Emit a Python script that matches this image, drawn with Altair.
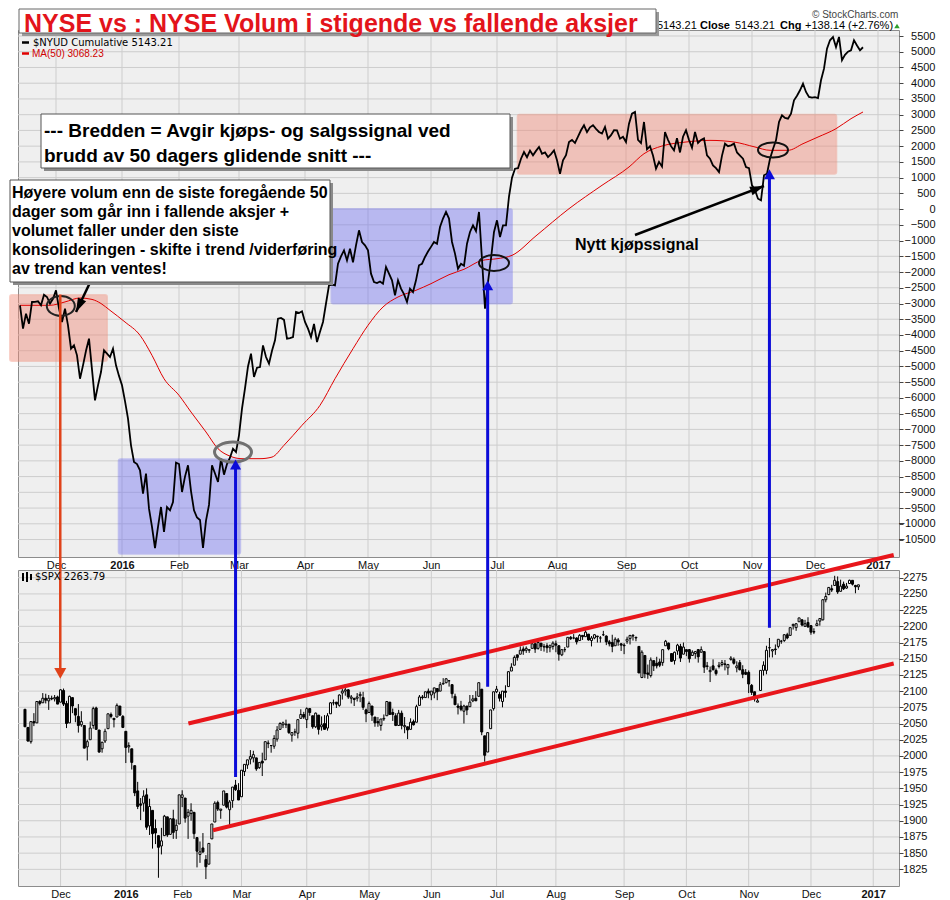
import altair as alt
import pandas as pd

# ---------------- data ----------------
# x = trading-day index, 0 = 1 Dec 2015 (first value = 12 Nov 2015)
FIRST_DAY = -12
month_ticks = [0, 22, 41, 61, 83, 104, 125, 147, 167, 190, 211, 232, 253, 274]
month_labels = ["Dec", "2016", "Feb", "Mar", "Apr", "May", "Jun", "Jul", "Aug",
                "Sep", "Oct", "Nov", "Dec", "2017"]
nyud_ticks = list(range(-10500, 5501, 500))
spx_ticks = list(range(1825, 2276, 25))

nyud = [
    -3057, -3800, -3323, -3641, -2952, -2950, -2930, -3057, -2720, -2793, -3000, -2850,
    -2580, -3165, -3588, -3165, -3693, -4436, -4330, -4647, -5390, -4965, -4500, -4118,
    -5100, -6077, -5600, -5177, -4487, -4590, -4700, -4436, -4965, -5300,
    -5600, -6100, -6660, -7506, -8036, -8100, -8300, -9044, -8408, -9520, -10100, -10769,
    -10100, -9466, -10261, -9466, -9570, -9307, -8058,
    -8100, -8990, -8500, -8141, -8960, -9571, -9800, -9880, -10769, -9900, -9400, -8141,
    -8400, -8672, -7931, -8440, -8100, -7900, -7613, -7718,
    -7188, -6343, -5700, -5000, -4594, -5335, -5040, -5018, -4330, -4700, -4912, -4500,
    -4170, -3481, -3460, -3520, -4118, -4100, -4065, -3270, -3300, -3248,
    -3587, -3800, -4065, -3650, -4224, -3900, -3588, -3000, -2422, -2400, -2422, -1736,
    -1500, -1310, -1630, -1258, -1690, -1151, -674, -1046, -1150,
    -1310, -2052, -2317, -2350, -2300, -2370, -1840, -2052, -2263, -2740, -2263, -2528,
    -2700, -2952, -2528, -2635, -2263, -1786, -1736, -1522, -1350,
    -1200, -1045, -1100, -569, -300, -92, -300, -1045, -1415, -1894, -1736, -1800,
    -1100, -728, -515, -700, -92, -1600, -3165, -2316, -1576, -728,
    -356, -887, -515, -515, 400, 1000, 1284, 1300, 1600, 1814, 1650, 1860, 1710, 1850,
    1973, 1760, 1800, 1655, 1750, 1868,
    1550, 1125, 1550, 1710, 2132, 2200, 2100, 2300, 2504, 2663, 2450, 2600, 2663, 2550,
    2450, 2400, 2610, 2237, 2350, 2504, 2500, 2237, 2300,
    2132, 2713, 3031, 3086, 2200, 2100, 2768, 1900, 2000, 1700, 1284, 1500, 1350, 2450,
    2200, 2000, 1868, 2250, 1800, 2300, 2504,
    2200, 1950, 2450, 2100, 2200, 2250, 1710, 1600, 1390, 1300, 1178, 1700, 2078, 2000,
    2027, 2080, 1800, 1700, 1600, 1338, 1300,
    756, 600, 330, 280, 1074, 1125, 1600, 1910, 2184, 2768, 2980, 2900, 2875, 3031,
    3457, 3600, 3775, 3985, 3722, 3562, 3540,
    3560, 3530, 4093, 4462, 5097, 5364, 5470, 5150, 5470, 4729, 4900, 5000, 5047, 5364,
    5200, 5047, 5143,
]

ma_day = [-12, -2, 3, 8, 12, 15, 18, 23, 28, 32, 36, 41, 45, 50, 54, 58, 62, 68, 72, 76,
          82, 88, 93, 99, 104, 109, 114, 120, 125, 131, 136, 142, 147, 152, 160, 171, 182,
          191, 196, 202, 210, 218, 226, 233, 238, 244, 249, 254, 260, 265, 269]
ma_val = [-3057, -3057, -2950, -2825, -2870, -3000, -3217, -3588, -4010, -4647, -5390,
          -5917, -6448, -7083, -7613, -7850, -7931, -7931, -7880, -7506, -6870, -6235,
          -5390, -4436, -3693, -3110, -2793, -2580, -2370, -2085, -1913, -1630, -1576,
          -1470, -850, 13, 756, 1338, 1760, 2005, 2132, 2184, 2132, 1973, 1868, 1868,
          2078, 2290, 2555, 2873, 3086]

spx_open = [
    2072, 2044, 2022, 2053, 2051, 2084, 2082, 2089, 2085, 2089, 2088, 2091,
    2083, 2101, 2081, 2051, 2090, 2073, 2061, 2048, 2047, 2014, 2025, 2047, 2074, 2040, 2011, 2023, 2042, 2064, 2058, 2060, 2077, 2061,
    2038, 2014, 2011, 1985, 1946, 1926, 1927, 1940, 1892, 1916, 1888, 1877, 1861, 1877, 1906, 1879, 1903, 1885, 1895,
    1936, 1935, 1907, 1911, 1913, 1874, 1848, 1858, 1840, 1833, 1872, 1898, 1928, 1916, 1924, 1942, 1917, 1931, 1955, 1947,
    1937, 1976, 1986, 1995, 1997, 1997, 1982, 1992, 1994, 2019, 2016, 2015, 2026, 2041, 2048, 2048, 2049, 2032, 2037, 2035, 2058, 2064,
    2056, 2073, 2062, 2045, 2063, 2045, 2050, 2043, 2065, 2082, 2083, 2078, 2097, 2100, 2102, 2089, 2089, 2089, 2093, 2090, 2071,
    2067, 2077, 2060, 2053, 2047, 2057, 2062, 2083, 2067, 2062, 2047, 2066, 2045, 2045, 2041, 2053, 2052, 2078, 2091, 2090, 2100,
    2094, 2097, 2104, 2100, 2111, 2113, 2116, 2110, 2092, 2077, 2077, 2069, 2077, 2076, 2085, 2089, 2092, 2103, 2031, 2006, 2042, 2073,
    2099, 2095, 2084, 2100, 2107, 2131, 2140, 2156, 2157, 2165, 2163, 2163, 2166, 2173, 2166, 2174, 2168, 2170, 2167, 2169,
    2173, 2170, 2156, 2164, 2168, 2183, 2182, 2182, 2178, 2186, 2184, 2188, 2178, 2182, 2185, 2182, 2187, 2185, 2176, 2175, 2170, 2179, 2173,
    2171, 2177, 2181, 2185, 2183, 2169, 2121, 2155, 2128, 2124, 2147, 2143, 2145, 2144, 2170, 2174, 2158, 2147, 2162, 2169, 2157,
    2164, 2164, 2155, 2158, 2164, 2160, 2161, 2138, 2130, 2139, 2132, 2138, 2141, 2142, 2136, 2149, 2149, 2136, 2144, 2133, 2129,
    2129, 2109, 2099, 2083, 2101, 2132, 2132, 2167, 2162, 2165, 2169, 2177, 2178, 2187, 2186, 2201, 2198, 2207, 2210, 2200, 2206,
    2201, 2191, 2201, 2208, 2210, 2241, 2249, 2258, 2263, 2269, 2254, 2265, 2259, 2266, 2271, 2263, 2261,
]
spx_high = [
    2072, 2044, 2053, 2066, 2084, 2086, 2097, 2096, 2094, 2093, 2094, 2093,
    2103, 2104, 2085, 2093, 2090, 2073, 2080, 2069, 2047, 2025, 2053, 2076, 2076, 2040, 2022, 2042, 2065, 2067, 2058, 2081, 2077, 2063,
    2038, 2021, 2011, 1985, 1960, 1935, 1947, 1950, 1934, 1916, 1902, 1877, 1889, 1909, 1906, 1904, 1917, 1902, 1940,
    1947, 1935, 1918, 1927, 1913, 1874, 1868, 1881, 1847, 1865, 1895, 1930, 1931, 1918, 1946, 1942, 1932, 1952, 1963, 1958,
    1978, 1987, 1994, 2009, 2008, 1997, 1990, 2005, 2022, 2024, 2016, 2032, 2046, 2052, 2053, 2056, 2049, 2036, 2042, 2056, 2072, 2068,
    2075, 2074, 2062, 2067, 2063, 2061, 2063, 2066, 2083, 2087, 2083, 2095, 2104, 2111, 2103, 2094, 2089, 2097, 2099, 2099, 2073,
    2084, 2077, 2060, 2060, 2057, 2064, 2084, 2083, 2073, 2066, 2071, 2070, 2060, 2045, 2058, 2056, 2079, 2094, 2094, 2099, 2104,
    2100, 2105, 2104, 2114, 2120, 2120, 2117, 2110, 2096, 2081, 2085, 2079, 2077, 2094, 2094, 2100, 2113, 2103, 2031, 2036, 2071, 2099,
    2108, 2099, 2100, 2109, 2131, 2143, 2155, 2156, 2169, 2169, 2169, 2164, 2175, 2175, 2176, 2174, 2173, 2174, 2172, 2177,
    2178, 2171, 2164, 2168, 2183, 2185, 2188, 2183, 2188, 2186, 2194, 2188, 2185, 2188, 2185, 2185, 2193, 2186, 2179, 2187, 2183, 2182, 2174,
    2174, 2184, 2186, 2188, 2184, 2169, 2163, 2155, 2141, 2152, 2147, 2153, 2150, 2164, 2179, 2175, 2158, 2161, 2173, 2173, 2175,
    2164, 2165, 2163, 2162, 2165, 2169, 2161, 2145, 2138, 2149, 2135, 2145, 2148, 2148, 2142, 2154, 2152, 2146, 2148, 2140, 2134,
    2132, 2111, 2099, 2093, 2132, 2146, 2170, 2182, 2165, 2172, 2180, 2179, 2188, 2190, 2198, 2204, 2205, 2213, 2211, 2210, 2214,
    2202, 2197, 2210, 2212, 2242, 2252, 2260, 2264, 2278, 2277, 2272, 2269, 2267, 2272, 2271, 2264, 2264,
]
spx_low = [
    2045, 2022, 2019, 2046, 2051, 2078, 2082, 2081, 2071, 2086, 2084, 2080,
    2083, 2077, 2043, 2051, 2066, 2052, 2036, 2045, 2012, 1993, 2025, 2042, 2041, 2005, 2005, 2020, 2042, 2058, 2044, 2060, 2062, 2043,
    1989, 2005, 1979, 1938, 1918, 1901, 1914, 1886, 1878, 1857, 1864, 1812, 1848, 1877, 1875, 1878, 1872, 1872, 1895,
    1921, 1897, 1872, 1900, 1872, 1828, 1835, 1850, 1810, 1833, 1872, 1898, 1915, 1903, 1924, 1919, 1891, 1920, 1946, 1932,
    1937, 1969, 1980, 1987, 1990, 1977, 1980, 1969, 1994, 2012, 2005, 2011, 2022, 2041, 2043, 2043, 2034, 2022, 2031, 2027, 2058, 2057,
    2043, 2062, 2042, 2043, 2033, 2039, 2041, 2039, 2065, 2078, 2074, 2076, 2087, 2093, 2088, 2081, 2077, 2084, 2083, 2071, 2052,
    2067, 2054, 2045, 2045, 2039, 2054, 2062, 2064, 2054, 2046, 2047, 2041, 2035, 2026, 2041, 2047, 2052, 2078, 2087, 2090, 2089,
    2086, 2089, 2086, 2100, 2110, 2112, 2107, 2089, 2079, 2064, 2069, 2050, 2063, 2076, 2083, 2085, 2092, 2032, 1991, 2006, 2042, 2070,
    2097, 2084, 2075, 2090, 2107, 2131, 2140, 2147, 2157, 2156, 2159, 2159, 2166, 2159, 2164, 2162, 2161, 2159, 2160, 2164,
    2160, 2147, 2154, 2160, 2168, 2179, 2180, 2172, 2178, 2179, 2184, 2178, 2169, 2180, 2175, 2175, 2185, 2171, 2169, 2160, 2170, 2170, 2162,
    2157, 2173, 2172, 2178, 2177, 2128, 2120, 2120, 2119, 2121, 2131, 2135, 2137, 2139, 2170, 2163, 2145, 2141, 2156, 2145, 2157,
    2154, 2144, 2155, 2150, 2144, 2160, 2128, 2133, 2114, 2132, 2124, 2135, 2138, 2132, 2125, 2147, 2141, 2129, 2132, 2120, 2125,
    2097, 2094, 2084, 2083, 2101, 2124, 2126, 2152, 2152, 2156, 2166, 2173, 2176, 2180, 2186, 2195, 2193, 2207, 2200, 2199, 2198,
    2187, 2188, 2201, 2201, 2209, 2237, 2248, 2253, 2263, 2250, 2254, 2256, 2258, 2266, 2263, 2251, 2256,
]
spx_close = [
    2045, 2023, 2053, 2051, 2084, 2081, 2089, 2086, 2089, 2088, 2090, 2080,
    2102, 2080, 2050, 2092, 2077, 2063, 2047, 2053, 2012, 2022, 2043, 2073, 2041, 2006, 2021, 2038, 2065, 2061, 2056, 2078, 2063, 2044,
    2013, 2016, 1990, 1943, 1922, 1924, 1938, 1890, 1922, 1880, 1881, 1859, 1869, 1907, 1878, 1903, 1882, 1893, 1940,
    1940, 1904, 1913, 1916, 1880, 1853, 1852, 1852, 1829, 1865, 1895, 1927, 1918, 1918, 1946, 1921, 1929, 1952, 1948, 1932,
    1978, 1987, 1994, 1999, 2002, 1980, 1990, 1989, 2022, 2020, 2016, 2027, 2040, 2050, 2051, 2049, 2036, 2036, 2037, 2056, 2064, 2060,
    2073, 2067, 2045, 2066, 2041, 2048, 2041, 2062, 2082, 2082, 2080, 2094, 2100, 2102, 2091, 2091, 2087, 2091, 2095, 2075, 2065,
    2081, 2063, 2051, 2051, 2057, 2058, 2084, 2064, 2064, 2047, 2066, 2047, 2047, 2040, 2052, 2048, 2076, 2091, 2090, 2099, 2097,
    2100, 2105, 2099, 2110, 2112, 2119, 2116, 2096, 2079, 2075, 2072, 2077, 2071, 2083, 2088, 2085, 2113, 2037, 2001, 2036, 2071, 2099,
    2103, 2089, 2100, 2098, 2130, 2137, 2152, 2152, 2163, 2162, 2166, 2164, 2173, 2165, 2175, 2169, 2169, 2167, 2170, 2174,
    2171, 2157, 2164, 2164, 2183, 2181, 2182, 2176, 2186, 2184, 2191, 2179, 2182, 2187, 2184, 2182, 2187, 2176, 2173, 2169, 2180, 2176, 2171,
    2170, 2180, 2186, 2186, 2182, 2128, 2160, 2127, 2126, 2148, 2139, 2139, 2140, 2164, 2177, 2165, 2146, 2160, 2171, 2151, 2168,
    2161, 2150, 2160, 2161, 2153, 2164, 2137, 2139, 2132, 2133, 2127, 2140, 2144, 2141, 2141, 2151, 2143, 2139, 2133, 2126, 2126,
    2111, 2098, 2088, 2085, 2132, 2140, 2163, 2167, 2164, 2164, 2180, 2177, 2187, 2182, 2198, 2203, 2204, 2213, 2202, 2204, 2199,
    2191, 2192, 2204, 2212, 2241, 2246, 2260, 2256, 2271, 2253, 2262, 2258, 2262, 2271, 2265, 2261, 2264,
]

# shaded zones on the breadth panel (day from, day to, value top, value bottom)
sell_zones = {"x1": [-15.33, 153.9], "x2": [17.0, 260.1], "y1": [-2730, 3000], "y2": [-4827, 1120]}
buy_zones = {"x1": [20.9, 91.8], "x2": [61.4, 152.0], "y1": [-7950, 0], "y2": [-10950, -3000]}

# trend channel on the S&P panel
channel = {"x1": [43.1, 51.4], "y1": [2050, 1885.3], "x2": [280.9, 280.9], "y2": [2310, 2142.6]}

# ---------------- helpers ----------------
n = len(nyud)
days = list(range(FIRST_DAY, FIRST_DAY + n))
ny_df = pd.DataFrame({"i": days, "v": nyud})
ma_df = pd.DataFrame({"i": ma_day, "v": ma_val})
spx_df = pd.DataFrame({"i": days, "o": spx_open, "h": spx_high, "l": spx_low, "c": spx_close})

W = 881
H_TOP = 527
H_BOT = 316
XS = alt.Scale(domain=[-12.667, 281.0], nice=False, zero=False)
YT = alt.Scale(domain=[-11055, 5691], nice=False, zero=False)
YB = alt.Scale(domain=[1799.3, 2286.9], nice=False, zero=False)

expr = "''"
for v, lab in reversed(list(zip(month_ticks, month_labels))):
    expr = f"datum.value == {v} ? '{lab}' : ({expr})"

GRID = "#CDCDCD"
FONT = "Liberation Sans"

xaxis = alt.Axis(values=month_ticks, labelExpr=expr, grid=False,
                 ticks=False, domain=False, labelFont=FONT, labelFontSize=11,
                 labelColor="#111", labelPadding=2, labelOverlap=False, labelFlush=False,
                 labelFontWeight={"condition": {"test": "datum.value == 22 || datum.value == 274",
                                                "value": "bold"}, "value": "normal"},
                 title=None)
ytop_axis = alt.Axis(orient="right", values=nyud_ticks, format="d", grid=False,
                     tickSize=4, tickColor="#444", domain=False, labelAlign="right",
                     labelPadding=32, labelFont=FONT, labelFontSize=11, labelColor="#111",
                     labelOverlap=False, title=None)
ybot_axis = alt.Axis(orient="right", values=spx_ticks, format="d", grid=False,
                     tickSize=4, tickColor="#444", domain=False, labelAlign="right",
                     labelPadding=24, labelFont=FONT, labelFontSize=11, labelColor="#111",
                     labelOverlap=False, title=None)


def XQ(f):
    return alt.X(f, type="quantitative", scale=XS, axis=xaxis)


def YTQ(f):
    return alt.Y(f, type="quantitative", scale=YT, axis=ytop_axis)


def YBQ(f):
    return alt.Y(f, type="quantitative", scale=YB, axis=ybot_axis)


one = pd.DataFrame({"k": [0]})


def ellipse_path(r):
    k = 0.5523
    return (f"M-1,0 C-1,{-k*r:.3f} {-k:.3f},{-r:.3f} 0,{-r:.3f} "
            f"C{k:.3f},{-r:.3f} 1,{-k*r:.3f} 1,0 "
            f"C1,{k*r:.3f} {k:.3f},{r:.3f} 0,{r:.3f} "
            f"C{-k:.3f},{r:.3f} -1,{k*r:.3f} -1,0 Z")


HEAD_UP = "M0,0 L1,1.8 L-1,1.8 Z"
HEAD_NARROW = "M0,0 L0.65,2 L-0.65,2 Z"


def px_rect(x1, x2, y1, y2, color, stroke=None, sw=0):
    kw = dict(color=color)
    if stroke:
        kw.update(stroke=stroke, strokeWidth=sw)
    return alt.Chart(one).mark_rect(**kw).encode(
        x=alt.value(x1), x2=alt.value(x2), y=alt.value(y1), y2=alt.value(y2))


def px_text(x, y, txt, size=11, weight="normal", color="black", font=FONT,
            align="left", baseline="alphabetic", line_height=None):
    kw = dict(fontSize=size, fontWeight=weight, color=color, font=font,
              align=align, baseline=baseline)
    if line_height:
        kw["lineHeight"] = line_height
    return alt.Chart(one).mark_text(**kw).encode(
        x=alt.value(x), y=alt.value(y), text=alt.value(txt))


def px_rule(x1, x2, y1, y2, color, sw):
    return alt.Chart(one).mark_rule(color=color, strokeWidth=sw).encode(
        x=alt.value(x1), x2=alt.value(x2), y=alt.value(y1), y2=alt.value(y2))


# ---------------- top panel ----------------
top_hgrid = alt.Chart(pd.DataFrame({"v": nyud_ticks})).mark_rule(
    color=GRID, strokeWidth=1).encode(y=YTQ("v"))
top_vgrid = alt.Chart(pd.DataFrame({"i": month_ticks})).mark_rule(
    color=GRID, strokeWidth=1).encode(x=XQ("i"))

sell = alt.Chart(pd.DataFrame(sell_zones)).mark_rect(
    color="#F08A78", opacity=0.45, stroke="#F0826C", strokeWidth=2, strokeOpacity=0.8,
    cornerRadius=2).encode(x=XQ("x1"), x2="x2:Q", y=YTQ("y1"), y2="y2:Q")
buy = alt.Chart(pd.DataFrame(buy_zones)).mark_rect(
    color="#6E6EF2", opacity=0.42, stroke="#6A6AEE", strokeWidth=2, strokeOpacity=0.8,
    cornerRadius=2).encode(x=XQ("x1"), x2="x2:Q", y=YTQ("y1"), y2="y2:Q")

ma_line = alt.Chart(ma_df).mark_line(color="#E00000", strokeWidth=1, interpolate="monotone").encode(
    x=XQ("i"), y=YTQ("v"))
ny_line = alt.Chart(ny_df).mark_line(color="#000000", strokeWidth=1.8).encode(
    x=XQ("i"), y=YTQ("v"))


def ellipse(i, v, r, size, color, sw):
    return alt.Chart(pd.DataFrame({"i": [i], "v": [v]})).mark_point(
        shape=ellipse_path(r), size=size, filled=False, color=color, strokeWidth=sw,
        opacity=1).encode(x=XQ("i"), y=YTQ("v"))


ellipses = [
    ellipse(1.6, -3080, 0.71, 784, "#222222", 2),
    ellipse(59.0, -7720, 0.54, 1369, "#707070", 3),
    ellipse(146.0, -1714, 0.53, 900, "#111111", 2),
    ellipse(239.0, 1877, 0.50, 900, "#111111", 2),
]

# black annotation arrows (tail -> tip) on the breadth panel
black_arrows = pd.DataFrame({"x1": [11.43, 193.0], "y1": [-2316, -823],
                             "x2": [6.67, 236.0], "y2": [-3270, 734],
                             "ang": [205.5, 69.0]})
arrow_shafts = alt.Chart(black_arrows).mark_rule(color="black", strokeWidth=2.5).encode(
    x=XQ("x1"), y=YTQ("y1"), x2="x2:Q", y2="y2:Q")
arrow_heads = [
    alt.Chart(black_arrows.iloc[[k]]).mark_point(
        shape=HEAD_NARROW, size=196, filled=True, color="black", opacity=1,
        angle=float(black_arrows.ang[k])).encode(x=XQ("x2"), y=YTQ("y2"))
    for k in range(len(black_arrows))
]

box_a = [
    px_rect(26, 495, 87, 141, "#8A8A8A"),
    px_rect(23, 492, 84, 138, "white", "#555555", 1),
    px_text(26, 107, ["--- Bredden = Avgir kjøps- og salgssignal ved",
                      "brudd av 50 dagers glidende snitt ---"],
            size=19, weight="bold", line_height=25),
]
box_b = [
    px_rect(-5, 315, 153, 255, "#8A8A8A"),
    px_rect(-8, 312, 150, 252, "white", "#555555", 1),
    px_text(-6, 168, ["Høyere volum enn de siste foregående 50",
                      "dager som går inn i fallende aksjer +",
                      "volumet faller under den siste",
                      "konsolideringen - skifte i trend /viderføring",
                      "av trend kan ventes!"],
            size=16, weight="bold", line_height=19),
]
signal_text = px_text(557, 220, "Nytt kjøpssignal", size=16, weight="bold")

header = [
    px_text(794, -15, "© StockCharts.com", size=10, color="#444444", baseline="middle"),
    px_text(639, -4, "5143.21", size=11, baseline="middle"),
    px_text(682, -4, "Close", size=11, weight="bold", baseline="middle"),
    px_text(717, -4, "5143.21", size=11, baseline="middle"),
    px_text(762, -4, "Chg", size=11, weight="bold", baseline="middle"),
    px_text(787, -4, "+138.14 (+2.76%)", size=11, baseline="middle"),
    alt.Chart(one).mark_point(shape="triangle-up", size=30, filled=True, color="#2CA02C",
                              opacity=1).encode(x=alt.value(879), y=alt.value(-4)),
    px_rule(4, 11, 12.5, 12.5, "black", 2.5),
    px_text(15, 12.5, "$NYUD Cumulative 5143.21", size=10, font="DejaVu Sans", baseline="middle"),
    px_rule(4, 11, 23.5, 23.5, "#E00000", 2.5),
    px_text(14, 23.5, "MA(50) 3068.23", size=10, color="#D00000", baseline="middle"),
    px_rect(4, 641, -18, 6, "#9A9A9A"),
    px_rect(1, 638, -21, 3, "white", "#666666", 1),
    px_text(6, 2, "NYSE vs : NYSE Volum i stigende vs fallende aksjer",
            size=25, weight="bold", color="#E3141B"),
]

top = alt.layer(top_hgrid, top_vgrid, sell, buy, ma_line, ny_line, *ellipses, arrow_shafts,
                *arrow_heads, *box_a, *box_b, signal_text, *header).properties(
    width=W, height=H_TOP)

# ---------------- bottom panel ----------------
bot_hgrid = alt.Chart(pd.DataFrame({"v": spx_ticks})).mark_rule(
    color=GRID, strokeWidth=1).encode(y=YBQ("v"))
bot_vgrid = alt.Chart(pd.DataFrame({"i": month_ticks})).mark_rule(
    color=GRID, strokeWidth=1).encode(x=XQ("i"))

wicks = alt.Chart(spx_df).mark_rule(color="black", strokeWidth=1).encode(
    x=XQ("i"), y=YBQ("l"), y2="h:Q")
bodies = alt.Chart(spx_df).transform_calculate(
    lo="min(datum.o, datum.c)", hi="max(datum.o, datum.c)").mark_bar(
    size=2, stroke="black", strokeWidth=1).encode(
    x=XQ("i"), y=YBQ("lo"), y2="hi:Q",
    fill=alt.condition("datum.c >= datum.o", alt.value("white"), alt.value("black")))

trend = alt.Chart(pd.DataFrame(channel)).mark_rule(color="#E8161B", strokeWidth=4).encode(
    x=XQ("x1"), y=YBQ("y1"), x2="x2:Q", y2="y2:Q")

# long signal arrows, expressed on the S&P scale (tips reach up into the breadth panel)
blue_arrows = pd.DataFrame({"x": [59.0, 144.0, 239.0],
                            "tail": [1967.6, 2106.6, 2197.8],
                            "shaft_end": [2444.9, 2721.4, 2892.9],
                            "tip": [2457.3, 2733.8, 2905.2]})
blue_shaft = alt.Chart(blue_arrows).mark_rule(color="#0B0BD8", strokeWidth=3).encode(
    x=XQ("x"), y=YBQ("tail"), y2="shaft_end:Q")
blue_head = alt.Chart(blue_arrows).mark_point(
    shape=HEAD_UP, size=121, filled=True, color="#0B0BD8", opacity=1).encode(
    x=XQ("x"), y=YBQ("tip"))

red_arrow = pd.DataFrame({"x": [-0.1], "top": [2712.1], "shaft_end": [2134.4], "tip": [2119.0]})
red_shaft = alt.Chart(red_arrow).mark_rule(color="#E0421A", strokeWidth=2.5).encode(
    x=XQ("x"), y=YBQ("top"), y2="shaft_end:Q")
red_head = alt.Chart(red_arrow).mark_point(
    shape=HEAD_UP, size=144, filled=True, color="#E0421A", opacity=1, angle=180).encode(
    x=XQ("x"), y=YBQ("tip"))

spx_legend = [
    px_rule(5, 5, 3, 11, "black", 2),
    px_rule(9, 9, 2, 12, "black", 2),
    px_rule(13, 13, 4, 10, "black", 2),
    px_text(17, 7, "$SPX 2263.79", size=10, font="DejaVu Sans", baseline="middle"),
]

bottom = alt.layer(bot_hgrid, bot_vgrid, wicks, bodies, trend, blue_shaft, blue_head,
                   red_shaft, red_head, *spx_legend).properties(width=W, height=H_BOT)

chart = alt.vconcat(top, bottom, spacing=13, bounds="flush").properties(
    padding=0, background="white"
).configure_view(stroke="#8C8C8C", strokeWidth=1, fill="#EFEFEF")

chart.save("out.html", embed_options={"renderer": "svg", "actions": False})
